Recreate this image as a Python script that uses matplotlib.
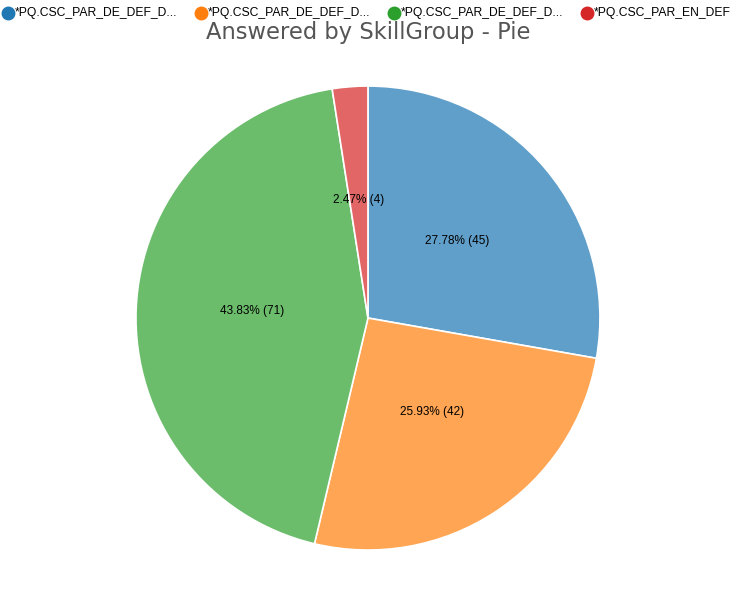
import matplotlib
matplotlib.use("Agg")
import matplotlib.pyplot as plt
from matplotlib.lines import Line2D

groups = ["*PQ.CSC_PAR_DE_DEF_D...", "*PQ.CSC_PAR_DE_DEF_D...",
          "*PQ.CSC_PAR_DE_DEF_D...", "*PQ.CSC_PAR_EN_DEF"]
counts = [45, 42, 71, 4]
legend_colors = ["#1f77b4", "#ff7f0e", "#2ca02c", "#d62728"]
slice_colors = ["#619fcb", "#ffa553", "#6bbd6b", "#e36667"]

plt.rcParams["font.family"] = ["Liberation Sans", "DejaVu Sans"]

W, H = 733, 600
fig = plt.figure(figsize=(W / 100, H / 100), dpi=100)
ax = fig.add_axes([0.1855, 0.0833, 0.633, 0.7733])

total = sum(counts)


def fmt(pct):
    n = int(round(pct * total / 100.0))
    return f"{pct:.2f}% ({n})"


wedges, texts, autotexts = ax.pie(
    counts, colors=slice_colors, startangle=90, counterclock=False,
    autopct=fmt, pctdistance=0.5,
    wedgeprops=dict(edgecolor="white", linewidth=1.2),
    textprops=dict(fontsize=8.5, color="black"))
for t in autotexts:
    x, y = t.get_position()
    t.set_position((x, y + 0.012))
ax.set_xlim(-1, 1)
ax.set_ylim(-1, 1)
ax.set_aspect("equal")

fig.text(0.502, 1 - 33 / H, "Answered by SkillGroup - Pie", ha="center", va="center",
         fontsize=16.3, color="#555555", family="DejaVu Sans")

# legend row across the top
dot_x = [8, 201, 394, 587]
for x, label, c in zip(dot_x, groups, legend_colors):
    fig.add_artist(Line2D([x / W], [1 - 13 / H], transform=fig.transFigure,
                          marker="o", markersize=9, linestyle="",
                          markerfacecolor=c, markeredgecolor=c))
    fig.text((x + 7) / W, 1 - 13 / H, label, ha="left", va="center",
             fontsize=8.75, color="black")

fig.savefig("out.png", dpi=100)
